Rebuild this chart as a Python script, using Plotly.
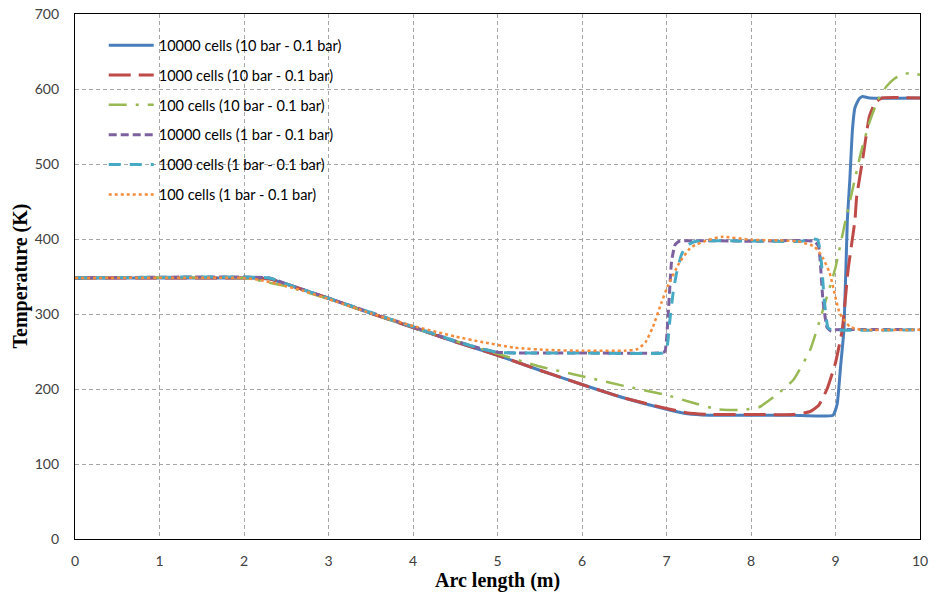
import plotly.graph_objects as go

# ---------------- data ----------------
blue_x = [0, 2.0, 2.3, 2.5, 3, 3.5, 4, 4.5, 5, 5.5, 6, 6.5, 7, 7.25, 7.5, 8, 8.5, 8.97, 9.02, 9.06, 9.1, 9.14, 9.17, 9.2, 9.23, 9.28, 9.32, 9.4, 10]
blue_y = [348, 348, 347, 340, 321, 301, 282, 263, 245, 225, 206, 188, 173, 167, 165, 165, 165, 165, 180, 230, 279, 425, 480, 545, 575, 587, 590, 588, 588]

red_x = [0, 2.0, 2.3, 2.5, 3, 3.5, 4, 4.5, 5, 5.5, 6, 6.5, 7, 7.25, 7.5, 8, 8.5, 8.7, 8.8, 8.9, 9.0, 9.08, 9.15, 9.23, 9.25, 9.32, 9.4, 9.47, 9.55, 10]
red_y = [348, 348, 347, 340, 321, 301, 282, 263, 245, 225, 206, 188, 174, 168, 166, 166, 166, 170, 178, 200, 235, 279, 360, 425, 456, 505, 563, 582, 588, 588]

green_x = [0, 2.0, 2.2, 2.5, 3, 3.5, 4, 4.5, 5, 5.5, 6, 6.5, 7, 7.3, 7.6, 7.9, 8.1, 8.3, 8.5, 8.7, 8.85, 9.0, 9.1, 9.2, 9.3, 9.4, 9.5, 9.6, 9.7, 9.8, 9.9, 10]
green_y = [348, 348, 344, 337, 320, 301, 282, 264, 247, 230, 217, 204, 192, 182, 173, 172, 176, 192, 212, 252, 305, 362, 415, 465, 515, 555, 585, 603, 614, 620, 621, 619]

purple_x = [0, 2.3, 2.5, 3, 3.5, 4, 4.5, 4.8, 5.0, 5.2, 6, 6.9, 6.98, 7.02, 7.06, 7.1, 7.15, 8, 8.75, 8.8, 8.85, 8.9, 8.95, 9.0, 10]
purple_y = [348, 348, 340, 321, 302, 283, 264, 254, 249, 248, 248, 248, 250, 300, 370, 392, 397, 397, 397, 390, 320, 282, 277, 279, 279]

cyan_x = [0, 2.3, 2.5, 3, 3.5, 4, 4.5, 4.8, 5.0, 5.2, 6, 6.95, 7.0, 7.04, 7.08, 7.12, 7.18, 7.25, 7.35, 8.6, 8.72, 8.79, 8.83, 8.87, 8.91, 8.95, 10]
cyan_y = [348, 348, 340, 321, 302, 283, 264, 254, 249, 248, 248, 248, 252, 292, 330, 355, 380, 392, 397, 397, 400, 399, 372, 315, 282, 279, 279]

orange_x = [0, 2.0, 2.2, 2.4, 2.7, 3, 3.5, 4, 4.5, 4.8, 5.2, 5.6, 6, 6.5, 6.65, 6.75, 6.84, 6.94, 7.01, 7.15, 7.29, 7.5, 7.66, 8, 8.55, 8.75, 8.85, 8.93, 9.05, 9.17, 9.3, 10]
orange_y = [348, 348, 345, 340, 331, 320, 301, 284, 270, 263, 255, 252, 251, 251, 253, 262, 283, 315, 336, 368, 389, 399, 403, 399, 397, 390, 375, 355, 301, 283, 279, 279]

names = [
    "10000 cells (10 bar - 0.1 bar)",
    "1000 cells (10 bar - 0.1 bar)",
    "100 cells (10 bar - 0.1 bar)",
    "10000 cells (1 bar - 0.1 bar)",
    "1000 cells (1 bar - 0.1 bar)",
    "100 cells (1 bar - 0.1 bar)",
]

x_ticks = [0, 1, 2, 3, 4, 5, 6, 7, 8, 9, 10]
y_ticks = [0, 100, 200, 300, 400, 500, 600, 700]
x_title = "Arc length (m)"
y_title = "Temperature (K)"

# ---------------- figure ----------------
styles = [
    (blue_x, blue_y, "#4A7EBB", "solid", 3),
    (red_x, red_y, "#BE4B48", "22px,8px", 3),
    (green_x, green_y, "#98B954", "18px,9px,3px,9px", 2.5),
    (purple_x, purple_y, "#7D60A0", "8px,4px", 3),
    (cyan_x, cyan_y, "#46AAC5", "12px,9px", 3),
    (orange_x, orange_y, "#F58C3C", "dot", 2.5),
]

fig = go.Figure()
for i, ((xs, ys, col, dash, w), nm) in enumerate(zip(styles, names)):
    fig.add_trace(go.Scatter(
        x=xs, y=ys, mode="lines", name=nm, legendgroup=f"g{i}",
        line=dict(color=col, dash=dash, width=w, shape="spline", smoothing=0.4),
    ))

tick_font = dict(family="Lato, Liberation Sans, sans-serif", size=14, color="#404040")
title_font = dict(family="Liberation Serif, serif", size=20, color="#000000")

fig.update_layout(
    width=936, height=596,
    margin=dict(l=75, r=16, t=14, b=57, autoexpand=False),
    plot_bgcolor="white", paper_bgcolor="white",
    showlegend=True,
    legend=dict(
        x=0.034, y=0.971, xanchor="left", yanchor="top",
        bgcolor="rgba(255,255,255,0)",
        font=dict(family="Lato, Liberation Sans, sans-serif", size=14.5, color="#000000"),
        itemwidth=45, tracegroupgap=8,
    ),
    xaxis=dict(
        range=[0, 10], tickvals=x_ticks, ticktext=[str(v) for v in x_ticks],
        showgrid=True, gridcolor="#A6A6A6", griddash="4px,3px", gridwidth=1,
        showline=True, linecolor="#000000", linewidth=1.3, mirror=True,
        zeroline=False, ticks="outside", ticklen=9, tickcolor="rgba(0,0,0,0)",
        tickfont=tick_font, automargin=False, ticklabeloverflow="allow",
    ),
    yaxis=dict(
        range=[0, 700], tickvals=y_ticks, ticktext=[str(v) for v in y_ticks],
        showgrid=True, gridcolor="#A6A6A6", griddash="4px,3px", gridwidth=1,
        showline=True, linecolor="#000000", linewidth=1.3, mirror=True,
        zeroline=False, ticks="outside", ticklen=12, tickcolor="rgba(0,0,0,0)",
        tickfont=tick_font, automargin=False, ticklabeloverflow="allow",
    ),
    annotations=[
        dict(text=f"<b>{x_title}</b>", x=0.5, y=0, xref="paper", yref="paper",
             xanchor="center", yanchor="middle", yshift=-41, showarrow=False,
             font=title_font),
        dict(text=f"<b>{y_title}</b>", x=0, y=0.5, xref="paper", yref="paper",
             xanchor="center", yanchor="middle", xshift=-55, showarrow=False,
             textangle=-90, font=title_font),
    ],
)

# remove the page's default body margin so the figure fills the window exactly
fig.write_html("out.html", config={"displayModeBar": False},
               post_script="document.body.style.margin='0';")
